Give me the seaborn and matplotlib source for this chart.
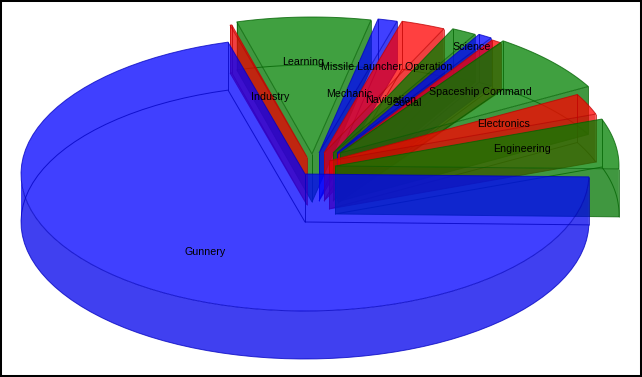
import numpy as np
import matplotlib
matplotlib.use("Agg")
import matplotlib.pyplot as plt
from matplotlib.patches import Polygon
import seaborn as sns

# clockwise from the east edge of the pie
names = ["Gunnery", "Industry", "Learning", "Mechanic", "Missile Launcher Operation",
         "Navigation", "Science", "Social", "Spaceship Command", "Electronics", "Engineering"]
shares = [70.3, 0.1, 7.6, 1.1, 2.5, 1.4, 0.8, 0.6, 7.2, 2.5, 5.9]
hues = ["blue", "red", "green", "blue", "red", "green", "blue", "red", "green", "red", "green"]

# pie geometry, pixels
cx, cy = 305, 174
rx, ry = 284, 137
depth = 48
first_angle = -1.2
fill_alpha = 0.75

# how far each slice is pulled out of the pie, pixels
pull_x = [0, 2, 7, 14, 19, 28, 32, 33, 35, 24, 30]
pull_y = [0, -17, -20, -21, -21, -21, -21, -19, -21, -13, -8]
# label distance along the slice and small turn off its middle
label_r = [0.67, 0.455, 0.67, 0.444, 0.667, 0.44, 0.908, 0.45, 0.664, 0.67, 0.67]
label_turn = [6, 1, 1, 0, 1, 0, 0, 1.4, 0, -1, 1]

sns.set_theme(style="white")
plt.rcParams["font.family"] = ["Liberation Sans", "DejaVu Sans"]

rgb = dict(blue=(0, 0, 1), red=(1, 0, 0), green=(0, 0.5, 0))
line = dict(blue=(0, 0, 0.75), red=(0.75, 0, 0), green=(0, 0.38, 0))
shade = 0.92


def rim(x0, y0, a0, a1):
    t = np.radians(np.linspace(a0, a1, 80))
    return np.column_stack([x0 + rx * np.cos(t), y0 - ry * np.sin(t)])


def face(ax, pts, hue, dark=False):
    col = tuple(c * shade for c in rgb[hue]) if dark else rgb[hue]
    ax.add_patch(Polygon(pts, closed=True, facecolor=col, alpha=fill_alpha, edgecolor="none"))


def outline(ax, pts, hue, closed=False):
    ax.add_patch(Polygon(pts, closed=closed, fill=False, edgecolor=line[hue], lw=0.7, alpha=0.75))


fig = plt.figure(figsize=(6.42, 3.77), dpi=100)
ax = fig.add_axes([0, 0, 1, 1])
ax.set_xlim(0, 642)
ax.set_ylim(377, 0)
ax.set_xticks([])
ax.set_yticks([])
for s in ax.spines.values():
    s.set_color("black")
    s.set_linewidth(2.9)

ends = first_angle + 360 - 3.6 * np.cumsum([0] + shares[:-1])
starts = ends - 3.6 * np.array(shares)
mids = (starts + ends) / 2
order = np.argsort(-np.sin(np.radians(mids)))

labels = []
for i in order:
    a0, a1, m, hue = starts[i], ends[i], mids[i], hues[i]
    x0 = cx + pull_x[i]
    y0 = cy + pull_y[i]
    arc = rim(x0, y0, a0, a1)
    low = arc + [0, depth]
    apex = np.array([x0, y0])
    apex_low = apex + [0, depth]

    # the two flat walls, only where they face the viewer
    if np.cos(np.radians(a0)) > 0:
        face(ax, [apex, arc[0], low[0], apex_low], hue, dark=True)
    if np.cos(np.radians(a1)) < 0:
        face(ax, [apex, arc[-1], low[-1], apex_low], hue, dark=True)
    # curved wall, front half only
    if a1 > 180:
        front = rim(x0, y0, max(a0, 180), min(a1, 360))
        face(ax, np.vstack([front, (front + [0, depth])[::-1]]), hue, dark=True)
    face(ax, np.vstack([apex, arc]), hue)

    # every edge shows through
    outline(ax, np.vstack([apex, arc]), hue, closed=True)
    outline(ax, np.vstack([apex_low, low]), hue, closed=True)
    outline(ax, [arc[0], low[0]], hue)
    outline(ax, [arc[-1], low[-1]], hue)
    outline(ax, [apex, apex_low], hue)

    la = np.radians(m + label_turn[i])
    labels.append((x0 + label_r[i] * rx * np.cos(la),
                   y0 - label_r[i] * ry * np.sin(la), names[i]))

for lx, ly, txt in labels:
    ax.text(lx, ly, txt, fontsize=7.7, color="black", ha="center", va="center")

fig.savefig("out.png", dpi=100)
